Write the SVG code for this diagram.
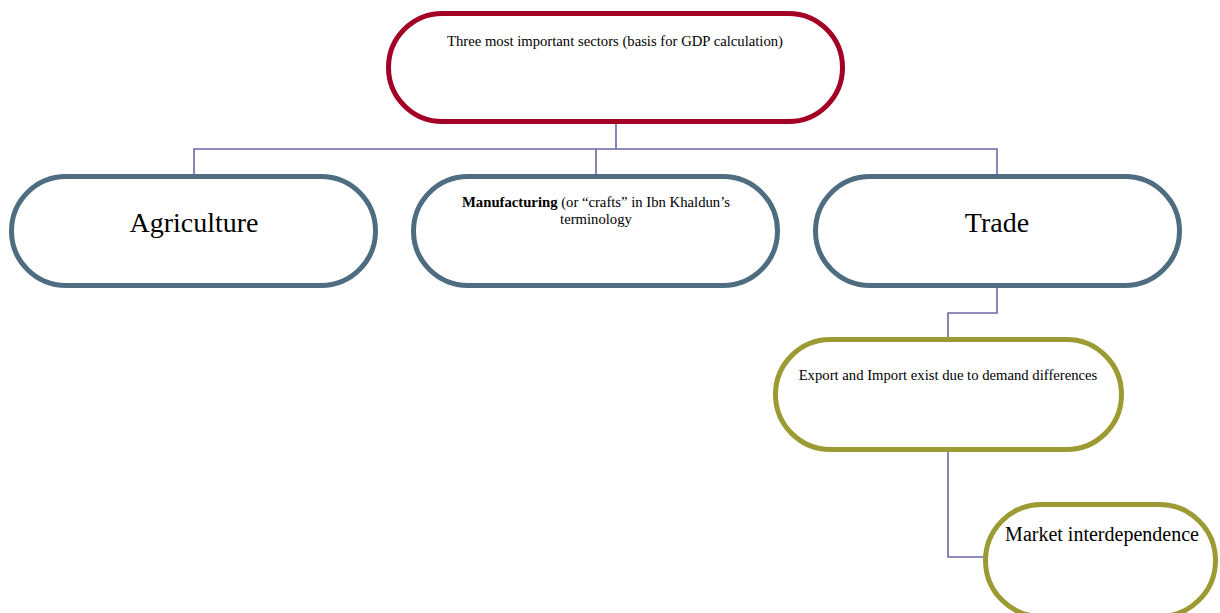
<svg xmlns="http://www.w3.org/2000/svg" width="1220" height="613" viewBox="0 0 1220 613">
<style>
.n{fill:#fff;stroke-width:5}
.red{stroke:#A30026}
.blue{stroke:#4F6D80}
.olive{stroke:#9C9A33}
.c{fill:none;stroke:#6A68A6;stroke-width:1.6}
text{font-family:"Liberation Serif","Times New Roman",serif;fill:#000;text-anchor:middle}
.s{font-size:14.7px}
.l{font-size:28px}
.m{font-size:20px}
</style>
<rect width="1220" height="613" fill="#fff"/>
<g id="connectors">
<path class="c" d="M616 124V149M194 176V149H997V176M596 149V176"/>
<path class="c" d="M997 288V313H948V338"/>
<path class="c" d="M948 452V557H985"/>
</g>
<g id="top">
<rect class="n red" x="388.5" y="13.5" width="454" height="108" rx="54"/>
<text class="s" x="615" y="46">Three most important sectors (basis for GDP calculation)</text>
</g>
<g id="agriculture">
<rect class="n blue" x="11.5" y="176.5" width="364" height="109" rx="54.5"/>
<text class="l" x="194" y="232">Agriculture</text>
</g>
<g id="manufacturing">
<rect class="n blue" x="413.5" y="176.5" width="364" height="109" rx="54.5"/>
<text class="s" x="596" y="207"><tspan font-weight="bold">Manufacturing</tspan> (or “crafts” in Ibn Khaldun’s</text>
<text class="s" x="596" y="224">terminology</text>
</g>
<g id="trade">
<rect class="n blue" x="815.5" y="176.5" width="364" height="109" rx="54.5"/>
<text class="l" x="997" y="232">Trade</text>
</g>
<g id="export">
<rect class="n olive" x="775.5" y="339.5" width="346" height="110" rx="55"/>
<text class="s" x="948" y="380">Export and Import exist due to demand differences</text>
</g>
<g id="market">
<rect class="n olive" x="985.5" y="504.5" width="230" height="112" rx="56"/>
<text class="m" x="1102" y="541">Market interdependence</text>
</g>
</svg>
